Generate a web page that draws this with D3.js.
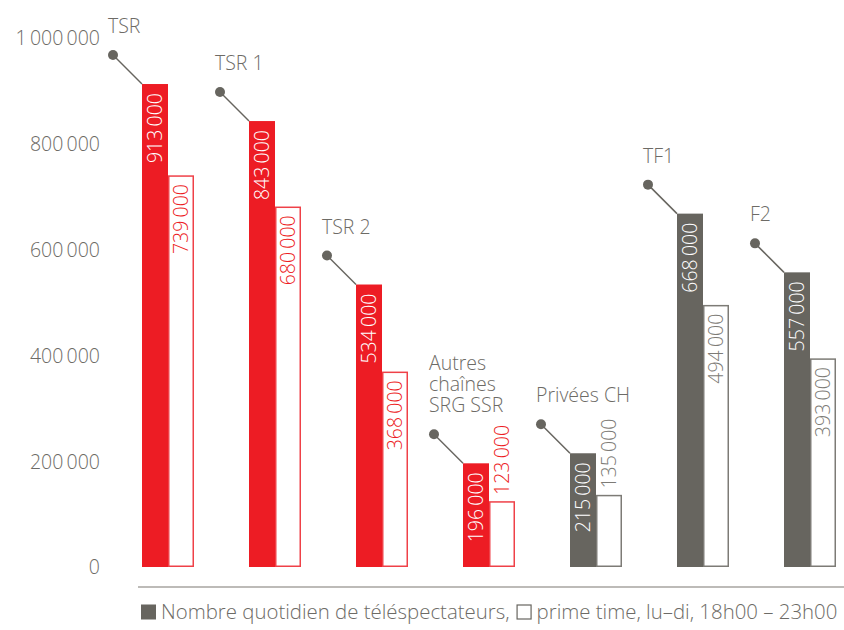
<!DOCTYPE html>
<html><head><meta charset="utf-8">
<script src="https://cdn.jsdelivr.net/npm/d3@7"></script>
<style>
body{margin:0;background:#fff;}
svg text{font-family:"Open Sans","Noto Sans",sans-serif;font-weight:300;}
</style></head>
<body><svg id="c" width="844" height="630"></svg>
<script>
const categories = ["TSR","TSR 1","TSR 2","Autres chaînes SRG SSR","Privées CH","TF1","F2"];
const labelLines = [["TSR"],["TSR 1"],["TSR 2"],["Autres","chaînes","SRG SSR"],["Privées CH"],["TF1"],["F2"]];
const dailyViewers = [913000,843000,534000,196000,215000,668000,557000];
const primeTime = [739000,680000,368000,123000,135000,494000,393000];
const groupType = ["ssr","ssr","ssr","ssr","other","other","other"];
const yTicks = [0,200000,400000,600000,800000,1000000];
const legendText = ["Nombre quotidien de téléspectateurs,","prime time, lu–di, 18h00 – 23h00"];

const RED="#ED1C24", RED_STROKE="#EF4148", GREY="#67655F", GREY_STROKE="#7d7b76", TXT="#6d6b66";
const FS = "19.5px";
const fmt = v => d3.format(",")(v).replace(/,/g,"\u2009");

const svg = d3.select("#c");
const y = d3.scaleLinear().domain([0,1000000]).range([567,38]);
const x = d3.scaleBand().domain(categories).range([142,836]).paddingInner(0.514).paddingOuter(0);
const xs = d3.scaleBand().domain(["main","prime"]).range([0,x.bandwidth()]);

const yAxis = d3.axisLeft(y).tickValues(yTicks).tickFormat(fmt).tickSize(0).tickPadding(0);
const ga = svg.append("g").attr("transform","translate(100,0)").call(yAxis);
ga.attr("font-family",null).attr("font-size",null);
ga.select(".domain").remove();
ga.selectAll("text").attr("fill",TXT).style("font-size",FS).attr("dy","0.35em");

svg.append("line").attr("x1",138).attr("x2",844).attr("y1",587).attr("y2",587).attr("stroke","#a7a5a1").attr("stroke-width",1.5);

const data = categories.map((c,i)=>({c,i,main:dailyViewers[i],prime:primeTime[i],t:groupType[i]}));
const g = svg.append("g");
data.forEach(d=>{
  const fill = d.t==="ssr"?RED:GREY;
  const stroke = d.t==="ssr"?RED_STROKE:GREY_STROKE;
  const x0 = x(d.c)+xs("main"), x1 = x(d.c)+xs("prime"), w = xs.bandwidth();
  g.append("rect").attr("x",x0).attr("y",y(d.main)).attr("width",w).attr("height",y(0)-y(d.main)).attr("fill",fill);
  g.append("rect").attr("x",x1+0.75).attr("y",y(d.prime)).attr("width",w-1.5).attr("height",y(0)-y(d.prime)-0.75)
    .attr("fill","#fff").attr("stroke",stroke).attr("stroke-width",1.5);
  g.append("text").attr("transform",`translate(${x0+w/2},${y(d.main)+9}) rotate(-90)`)
    .attr("text-anchor","end").attr("dy","0.35em").attr("fill","#fff").style("font-size",FS).text(fmt(d.main));
  const inside = (y(0)-y(d.prime))>90;
  g.append("text").attr("transform",`translate(${x1+w/2},${inside?y(d.prime)+8:y(d.prime)-7}) rotate(-90)`)
    .attr("text-anchor",inside?"end":"start").attr("dy","0.35em").attr("fill",d.t==="ssr"?RED:GREY_STROKE)
    .style("font-size",FS).text(fmt(d.prime));
  const dx = x0-29, dy = y(d.main)-29;
  g.append("line").attr("x1",dx).attr("y1",dy).attr("x2",x0).attr("y2",y(d.main)).attr("stroke",GREY).attr("stroke-width",1.5);
  g.append("circle").attr("cx",dx).attr("cy",dy).attr("r",5).attr("fill",GREY);
  const lines = labelLines[d.i];
  const t = g.append("text").attr("fill",TXT).style("font-size",FS);
  lines.forEach((l,k)=>{
    t.append("tspan").attr("x",dx-5).attr("y",dy-22-(lines.length-1-k)*21).text(l);
  });
});

// legend
const LFS = "20.4px";
const lg = svg.append("g").attr("transform","translate(140,619)");
lg.append("rect").attr("x",1).attr("y",-14.5).attr("width",15).attr("height",15).attr("fill",GREY);
const t1 = lg.append("text").attr("x",21).attr("y",0).attr("fill",TXT).style("font-size",LFS).text(legendText[0]);
const w1 = t1.node().getComputedTextLength();
lg.append("rect").attr("x",21+w1+7.5).attr("y",-14).attr("width",14).attr("height",14).attr("fill","#fff").attr("stroke",GREY).attr("stroke-width",1.2);
lg.append("text").attr("x",21+w1+27).attr("y",0).attr("fill",TXT).style("font-size",LFS).text(legendText[1]);
</script></body></html>
